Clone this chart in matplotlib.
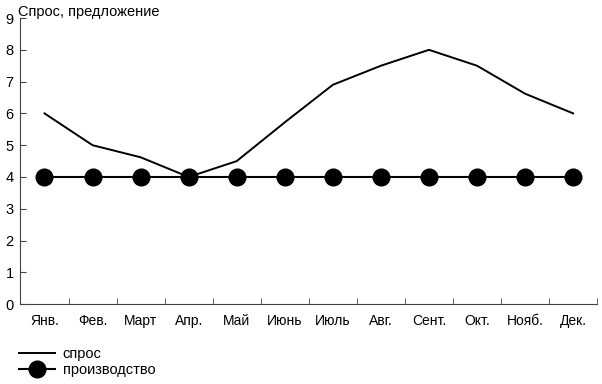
import matplotlib.pyplot as plt
import numpy as np

plt.rcParams['font.family'] = ['Liberation Sans', 'DejaVu Sans']

months = ["Янв.", "Фев.", "Март", "Апр.", "Май", "Июнь", "Июль",
          "Авг.", "Сент.", "Окт.", "Нояб.", "Дек."]
demand = [6.0, 5.0, 4.62, 4.0, 4.5, 5.72, 6.9, 7.5, 8.0, 7.5, 6.62, 6.0]
production = [4, 4, 4, 4, 4, 4, 4, 4, 4, 4, 4, 4]

fig = plt.figure(figsize=(6.02, 3.84), dpi=100)
ax = fig.add_axes([0.034, 0.208, 0.958, 0.745])

x = np.arange(len(months))
ax.plot(x, demand, color="black", lw=1.4, label="спрос")
ax.plot(x, production, color="black", lw=1.5, marker="o", markersize=12,
        label="производство")

ax.set_xlim(-0.5, len(months) - 0.5)
ax.set_ylim(0, 9)
ax.set_yticks(range(10))
ax.set_xticks(x)
ax.set_xticklabels(months)
ax.set_xticks(np.arange(0.5, len(months), 1), minor=True)
ax.tick_params(axis="x", which="major", length=0, pad=7, labelsize=10)
ax.tick_params(axis="x", which="minor", direction="in", length=4, color="#444")
ax.tick_params(axis="y", direction="in", length=4, color="#444", labelsize=10.5, pad=5)

for s in ["top", "right"]:
    ax.spines[s].set_color("none")
for s in ["left", "bottom"]:
    ax.spines[s].set_color("#444")

fig.text(0.03, 0.988, "Спрос, предложение", fontsize=10.5, va="top", ha="left")

fig.legend(loc="lower left", bbox_to_anchor=(0.017, -0.005), frameon=False,
           fontsize=10.5, handlelength=2.5, handletextpad=0.5, labelspacing=0.15,
           borderaxespad=0.2)

fig.savefig("out.png", dpi=100)
